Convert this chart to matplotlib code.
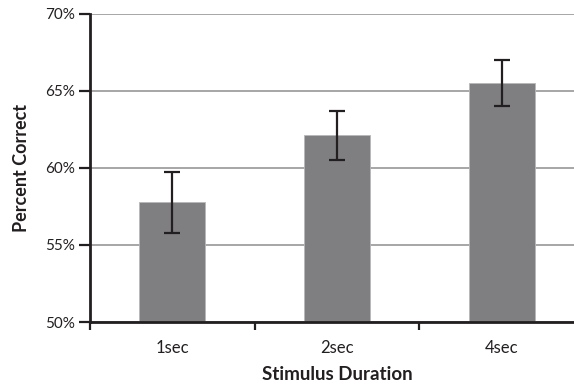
import matplotlib.pyplot as plt
from matplotlib.ticker import FuncFormatter
import numpy as np

plt.rcParams['font.family'] = ['Lato', 'DejaVu Sans']

# data
durations = ['1sec', '2sec', '4sec']
percent_correct = [57.8, 62.1, 65.5]
err_low = [2.0, 1.6, 1.5]
err_high = [1.95, 1.6, 1.5]
y_ticks = [50, 55, 60, 65, 70]

fig = plt.figure(figsize=(5.74, 3.87), dpi=100)
ax = fig.add_axes([90 / 574, 1 - 322 / 387, 494 / 574, 308.5 / 387])

x = np.arange(len(durations)) + 0.5
ax.bar(x, percent_correct, width=0.4, color='#7f7f82', edgecolor='#b8b8ba',
       linewidth=0.6, zorder=2)
ax.errorbar(x, percent_correct, yerr=[err_low, err_high], fmt='none',
            ecolor='#231f20', elinewidth=1.6, capsize=5.5, capthick=1.6, zorder=3)

ax.set_xlim(0, 3)
ax.set_ylim(50, 70)
ax.set_yticks(y_ticks)
ax.yaxis.set_major_formatter(FuncFormatter(lambda v, p: f'{v:.0f}%'))
ax.yaxis.grid(True, color='#a6a6a6', linewidth=1.4, zorder=0)
ax.set_axisbelow(True)

ax.set_xticks([0, 1, 2, 3])
ax.set_xticklabels([])
ax.set_xticks(x, minor=True)
ax.set_xticklabels(durations, minor=True)
ax.tick_params(axis='x', which='minor', length=0, pad=13, labelsize=12,
               labelcolor='#231f20')
ax.tick_params(axis='x', which='major', length=6, width=1.6, color='#231f20')
ax.tick_params(axis='y', length=8, width=1.6, color='#231f20', pad=3,
               labelsize=11, labelcolor='#231f20')

for s in ['top', 'right']:
    ax.spines[s].set_visible(False)
for s in ['left', 'bottom']:
    ax.spines[s].set_linewidth(2)
    ax.spines[s].set_color('#231f20')

ax.set_ylabel('Percent Correct', fontsize=13, fontweight='bold',
              color='#231f20', labelpad=11)
ax.set_xlabel('Stimulus Duration', fontsize=13.5, fontweight='bold',
              color='#231f20', labelpad=7)

fig.savefig('out.png', dpi=100)
